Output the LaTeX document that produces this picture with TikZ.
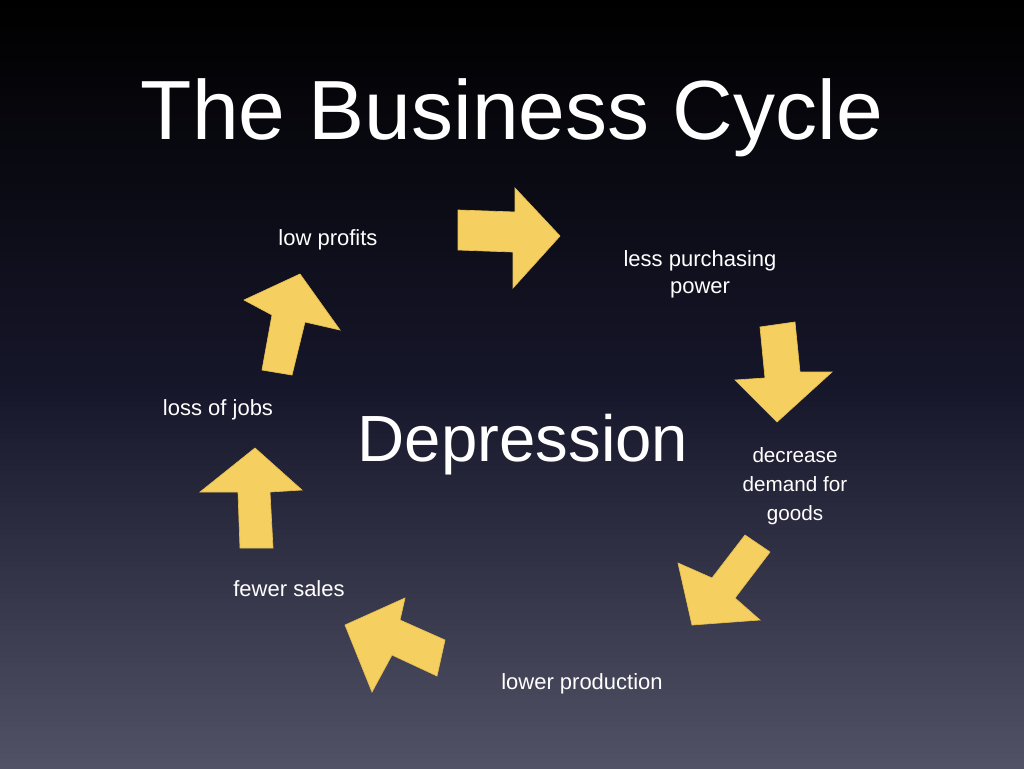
\documentclass[tikz,border=0pt]{standalone}
\usepackage{fontspec}
\setmainfont{Liberation Sans}
\begin{document}
\begin{tikzpicture}[x=0.75pt,y=-0.75pt,
  arr/.style={fill={rgb,255:red,245;green,208;blue,96}, draw={rgb,255:red,230;green,190;blue,80}, line width=0.5pt},
  lbl/.style={text=white, font=\fontsize{16.5}{20}\selectfont, align=center},
  sml/.style={text=white, font=\fontsize{15.5}{21.5}\selectfont, align=center}]
\shade[top color=black, bottom color={rgb,255:red,82;green,82;blue,102}, middle color={rgb,255:red,22;green,22;blue,42}] (0,0) rectangle (1024,768);
\useasboundingbox (0,0) rectangle (1024,768);
\node[text=white, font=\fontsize{63}{70}\selectfont] (title) at (512,118) {The Business Cycle};
\node[text=white, font=\fontsize{49}{55}\selectfont] (dep) at (523,445) {Depression};
\node[lbl] (lp) at (328,240) {low profits};
\node[lbl] (lpp) at (700,274) {less purchasing\\power};
\node[lbl] (lj) at (218,410) {loss of jobs};
\node[sml] (dd) at (795,486) {decrease\\demand for\\goods};
\node[lbl] (fs) at (289,589) {fewer sales};
\node[lbl] (lo) at (582,684) {lower production};
\fill[arr] (458,210)--(515,212)--(515,188)--(560,236)--(513,288)--(513,252)--(458,250)--cycle;
\fill[arr] (760,327)--(795,322)--(800,372)--(832,372)--(777,422)--(735,380)--(765,378)--cycle;
\fill[arr] (745,535)--(770,552)--(735,598)--(760,620)--(692,625)--(678,563)--(712,578)--cycle;
\fill[arr] (345,625)--(405,598)--(400,620)--(445,640)--(437,676)--(392,655)--(372,692)--cycle;
\fill[arr] (255,448)--(302,490)--(270,492)--(273,548)--(240,548)--(238,492)--(200,492)--cycle;
\fill[arr] (300,274)--(340,330)--(305,322)--(292,375)--(262,370)--(272,315)--(244,300)--cycle;
\end{tikzpicture}
\end{document}
